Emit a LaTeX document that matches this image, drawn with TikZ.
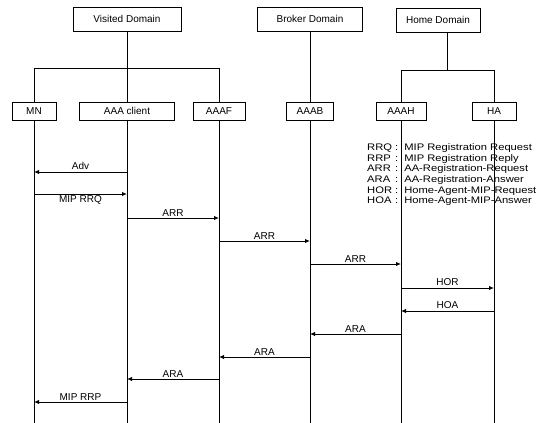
\documentclass[tikz,border=0pt]{standalone}
\usepackage{fontspec}
\setmainfont{Liberation Sans}
\usepackage{graphicx}
\usetikzlibrary{positioning}
\usetikzlibrary{calc}
\usetikzlibrary{arrows.meta}

\begin{document}
\begin{tikzpicture}[x=1pt,y=-1pt,
  box/.style={draw,line width=0.9pt,align=center,inner sep=2pt,font=\fontsize{10}{12}\selectfont},
  dom/.style={box,minimum height=24pt},
  ent/.style={box,minimum height=18pt},
  tree/.style={line width=0.9pt},
  life/.style={line width=1pt},
  msg/.style={line width=1pt,-{Latex[length=5pt,width=4.5pt]}},
  lab/.style={font=\fontsize{10}{12}\selectfont,inner sep=1.5pt}]

  \useasboundingbox (0,0) rectangle (544,423);

  % Entities -- one row, the lifelines hang from them
  \node[ent, minimum width=44pt] (mn) at (34,111) {MN};
  \node[ent, minimum width=95pt] (client) at (127,111) {AAA client};
  \node[ent, minimum width=52pt] (aaaf) at (219,111) {AAAF};
  \node[ent, minimum width=47pt] (aaab) at (310,111) {AAAB};
  \node[ent, minimum width=50pt] (aaah) at (401,111) {AAAH};
  \node[ent, minimum width=44pt] (ha) at (494,111) {HA};

  % Domains on top
  \node[dom, minimum width=108pt, above=70pt of client] (visited) {Visited Domain};
  \node[dom, minimum width=105pt, above=70pt of aaab] (broker) {Broker Domain};
  \node[dom, minimum width=84pt] (home) at (438,20) {Home Domain};

  % Domain trees
  \coordinate (vbar) at (0,68);
  \coordinate (hbar) at (0,70);
  \coordinate (hmid) at ($(aaah.north |- hbar)!0.5!(ha.north |- hbar)$);
  \draw[tree] (visited) -- (client);
  \draw[tree] (mn.north) -- (mn.north |- vbar) -- (aaaf.north |- vbar) -- (aaaf.north);
  \draw[tree] (broker) -- (aaab);
  \draw[tree] (home.south -| hmid) -- (hmid);
  \draw[tree] (aaah.north) -- (aaah.north |- hbar) -- (ha.north |- hbar) -- (ha.north);

  % Lifelines
  \coordinate (bottom) at (0,423);
  \foreach \n in {mn,client,aaaf,aaab,aaah,ha}
    \draw[life] (\n.south) -- (\n.south |- bottom);

  % Legend
  \node[anchor=north west, inner sep=0pt] (legend) at (367,143)
    {\scalebox{1}[0.85]{\fontsize{11.2}{12.5}\selectfont
     \begin{tabular}{@{}l@{ :\hspace{6pt}}l@{}}
       RRQ & MIP Registration Request\\
       RRP & MIP Registration Reply\\
       ARR & AA-Registration-Request\\
       ARA & AA-Registration-Answer\\
       HOR & Home-Agent-MIP-Request\\
       HOA & Home-Agent-MIP-Answer
     \end{tabular}}};

  % Messages
  \foreach \src/\dst/\y/\txt/\side in {
      client/mn/172/Adv/above,
      mn/client/194/MIP RRQ/below,
      client/aaaf/218/ARR/above,
      aaaf/aaab/241/ARR/above,
      aaab/aaah/264/ARR/above,
      aaah/ha/288/HOR/above,
      ha/aaah/311/HOA/above,
      aaah/aaab/334/ARA/above,
      aaab/aaaf/357/ARA/above,
      aaaf/client/379/ARA/above,
      client/mn/402/MIP RRP/above}
    \draw[msg] (\src |- 0,\y) -- node[lab,\side] {\txt} (\dst |- 0,\y);
\end{tikzpicture}
\end{document}
